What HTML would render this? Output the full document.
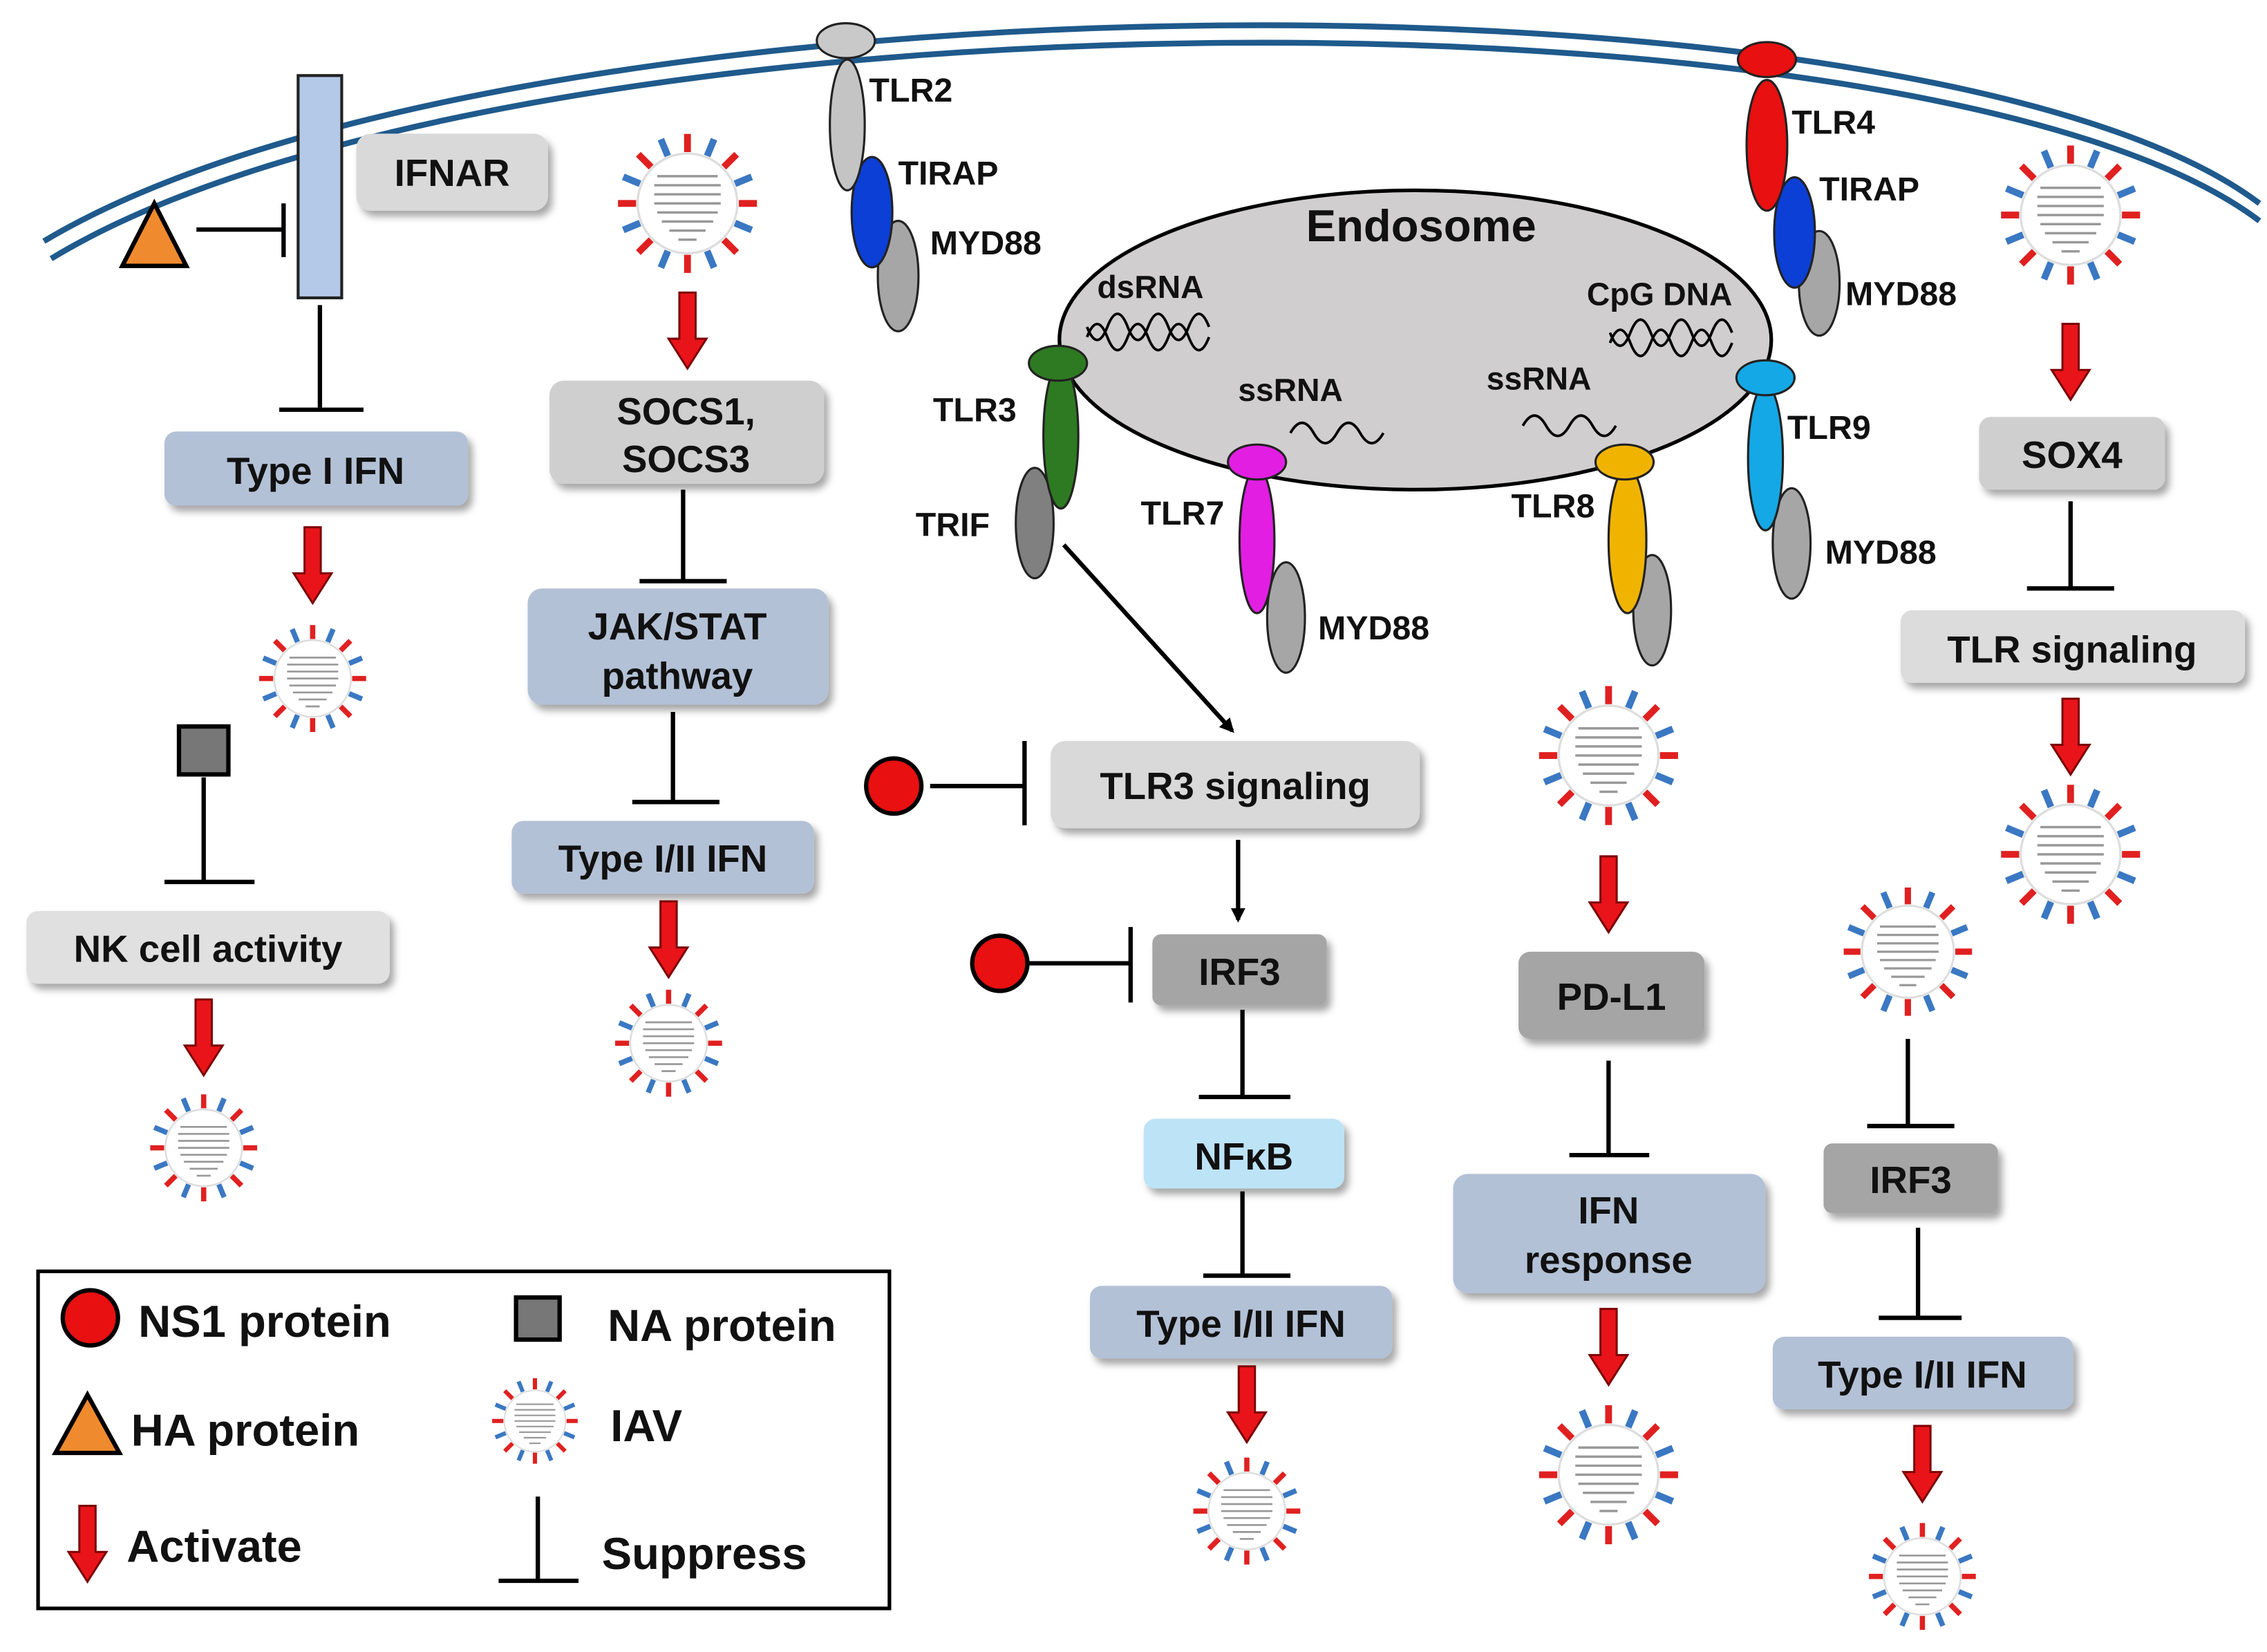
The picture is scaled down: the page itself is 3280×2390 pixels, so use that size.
<!DOCTYPE html>
<html><head><meta charset="utf-8"><style>
html,body{margin:0;padding:0;background:#fff}
svg{display:block}
text{font-family:"Liberation Sans",sans-serif;font-weight:bold;fill:#111}
</style></head><body>
<svg width="3280" height="2390" viewBox="0 0 1560 1137" xmlns="http://www.w3.org/2000/svg">
<defs>
<filter id="sh" x="-10%" y="-10%" width="130%" height="140%"><feDropShadow dx="3" dy="4" stdDeviation="2.5" flood-color="#000" flood-opacity="0.35"/></filter>
<symbol id="v" viewBox="-50 -50 100 100">
<g stroke-width="4.5">
<line x1="0" y1="-34" x2="0" y2="-46" stroke="#e02020"/>
<line x1="0" y1="-34" x2="0" y2="-46" stroke="#3a78c2" transform="rotate(22.5)"/>
<line x1="0" y1="-34" x2="0" y2="-46" stroke="#e02020" transform="rotate(45)"/>
<line x1="0" y1="-34" x2="0" y2="-46" stroke="#3a78c2" transform="rotate(67.5)"/>
<line x1="0" y1="-34" x2="0" y2="-46" stroke="#e02020" transform="rotate(90)"/>
<line x1="0" y1="-34" x2="0" y2="-46" stroke="#3a78c2" transform="rotate(112.5)"/>
<line x1="0" y1="-34" x2="0" y2="-46" stroke="#e02020" transform="rotate(135)"/>
<line x1="0" y1="-34" x2="0" y2="-46" stroke="#3a78c2" transform="rotate(157.5)"/>
<line x1="0" y1="-34" x2="0" y2="-46" stroke="#e02020" transform="rotate(180)"/>
<line x1="0" y1="-34" x2="0" y2="-46" stroke="#3a78c2" transform="rotate(202.5)"/>
<line x1="0" y1="-34" x2="0" y2="-46" stroke="#e02020" transform="rotate(225)"/>
<line x1="0" y1="-34" x2="0" y2="-46" stroke="#3a78c2" transform="rotate(247.5)"/>
<line x1="0" y1="-34" x2="0" y2="-46" stroke="#e02020" transform="rotate(270)"/>
<line x1="0" y1="-34" x2="0" y2="-46" stroke="#3a78c2" transform="rotate(292.5)"/>
<line x1="0" y1="-34" x2="0" y2="-46" stroke="#e02020" transform="rotate(315)"/>
<line x1="0" y1="-34" x2="0" y2="-46" stroke="#3a78c2" transform="rotate(337.5)"/>
</g>
<circle r="33" fill="#fff" stroke="#ddd" stroke-width="1.5"/>
<g stroke="#999" stroke-width="1.6">
<line x1="-20" y1="-18" x2="20" y2="-18"/><line x1="-22" y1="-12" x2="22" y2="-12"/><line x1="-22" y1="-6" x2="22" y2="-6"/><line x1="-22" y1="0" x2="22" y2="0"/><line x1="-20" y1="6" x2="20" y2="6"/><line x1="-17" y1="12" x2="17" y2="12"/><line x1="-12" y1="18" x2="12" y2="18"/><line x1="-6" y1="24" x2="6" y2="24"/>
</g>
</symbol>
<symbol id="ar" viewBox="0 0 30 56" overflow="visible">
<path d="M9,0 H21 V34 H29 L15,56 L1,34 H9 Z" fill="#e8141a" stroke="#7a0000" stroke-width="1.5"/>
</symbol>
<marker id="ah" markerWidth="10" markerHeight="10" refX="8" refY="5" orient="auto" markerUnits="userSpaceOnUse" viewBox="0 0 10 10"><path d="M0,0 L10,5 L0,10 Z" fill="#000"/></marker>
</defs>

<path d="M30,166 C350,-25 1330,-30 1555,140" fill="none" stroke="#1f5a8c" stroke-width="4"/>
<path d="M35,178 C350,-13 1330,-18 1555,152" fill="none" stroke="#1f5a8c" stroke-width="4"/>

<g stroke="#000" stroke-width="3" fill="none">
<line x1="135" y1="158" x2="195" y2="158"/><line x1="195" y1="140" x2="195" y2="177"/>
<line x1="220" y1="210" x2="220" y2="282"/><line x1="192" y1="282" x2="250" y2="282"/>
<line x1="140" y1="535" x2="140" y2="607"/><line x1="113" y1="607" x2="175" y2="607"/>
<line x1="470" y1="337" x2="470" y2="400"/><line x1="440" y1="400" x2="500" y2="400"/>
<line x1="463" y1="490" x2="463" y2="552"/><line x1="435" y1="552" x2="495" y2="552"/>
<line x1="1425" y1="345" x2="1425" y2="405"/><line x1="1395" y1="405" x2="1455" y2="405"/>
<line x1="640" y1="541" x2="705" y2="541"/><line x1="705" y1="510" x2="705" y2="568"/>
<line x1="708" y1="663" x2="778" y2="663"/><line x1="778" y1="638" x2="778" y2="690"/>
<line x1="855" y1="695" x2="855" y2="755"/><line x1="825" y1="755" x2="888" y2="755"/>
<line x1="855" y1="820" x2="855" y2="878"/><line x1="828" y1="878" x2="888" y2="878"/>
<line x1="1107" y1="730" x2="1107" y2="795"/><line x1="1080" y1="795" x2="1135" y2="795"/>
<line x1="1313" y1="715" x2="1313" y2="775"/><line x1="1285" y1="775" x2="1345" y2="775"/>
<line x1="1320" y1="845" x2="1320" y2="907"/><line x1="1293" y1="907" x2="1350" y2="907"/>
<line x1="732" y1="375" x2="848" y2="503" marker-end="url(#ah)"/>
<line x1="852" y1="578" x2="852" y2="633" marker-end="url(#ah)"/>
</g>

<rect x="205" y="52" width="30" height="153" fill="#b4c9e8" stroke="#222" stroke-width="2"/>
<polygon points="106,140 128,183 84,183" fill="#f08a2e" stroke="#000" stroke-width="3"/>
<rect x="123" y="500" width="34" height="33" fill="#777" stroke="#000" stroke-width="3"/>

<g filter="url(#sh)">
<rect x="245" y="92" width="132" height="53" rx="10" fill="#d9d9d9"/>
<rect x="113" y="297" width="209" height="51" rx="8" fill="#b3c1d6"/>
<rect x="18" y="627" width="250" height="50" rx="8" fill="#e0e0e0"/>
<rect x="378" y="262" width="189" height="71" rx="10" fill="#cfcfcf"/>
<rect x="363" y="405" width="207" height="80" rx="10" fill="#b3c1d6"/>
<rect x="352" y="565" width="208" height="50" rx="8" fill="#b3c1d6"/>
<rect x="723" y="510" width="254" height="60" rx="10" fill="#d9d9d9"/>
<rect x="793" y="643" width="120" height="49" rx="6" fill="#a5a5a5"/>
<rect x="787" y="770" width="138" height="48" rx="8" fill="#bde3f7"/>
<rect x="750" y="885" width="208" height="50" rx="8" fill="#b3c1d6"/>
<rect x="1045" y="655" width="128" height="60" rx="8" fill="#a5a5a5"/>
<rect x="1000" y="808" width="215" height="82" rx="10" fill="#b3c1d6"/>
<rect x="1362" y="287" width="128" height="50" rx="8" fill="#cfcfcf"/>
<rect x="1308" y="420" width="237" height="50" rx="8" fill="#dcdcdc"/>
<rect x="1255" y="787" width="120" height="48" rx="6" fill="#a5a5a5"/>
<rect x="1220" y="920" width="207" height="50" rx="8" fill="#b3c1d6"/>
</g>
<g font-size="26" text-anchor="middle">
<text x="311" y="128">IFNAR</text>
<text x="217" y="333">Type I IFN</text>
<text x="143" y="662">NK cell activity</text>
<text x="472" y="292">SOCS1,</text>
<text x="472" y="325">SOCS3</text>
<text x="466" y="440">JAK/STAT</text>
<text x="466" y="474">pathway</text>
<text x="456" y="600">Type I/II IFN</text>
<text x="850" y="550">TLR3 signaling</text>
<text x="853" y="678">IRF3</text>
<text x="856" y="805">NFκB</text>
<text x="854" y="920">Type I/II IFN</text>
<text x="1109" y="695">PD-L1</text>
<text x="1107" y="842">IFN</text>
<text x="1107" y="876">response</text>
<text x="1426" y="322">SOX4</text>
<text x="1426" y="456">TLR signaling</text>
<text x="1315" y="821">IRF3</text>
<text x="1323" y="955">Type I/II IFN</text>
</g>

<ellipse cx="974" cy="234" rx="245" ry="103" fill="#d0cece" stroke="#000" stroke-width="2.5"/>
<text x="978" y="166" font-size="31" text-anchor="middle">Endosome</text>
<g font-size="22">
<text x="755" y="205">dsRNA</text>
<text x="1092" y="210">CpG DNA</text>
<text x="852" y="276">ssRNA</text>
<text x="1023" y="268">ssRNA</text>
</g>
<g fill="none" stroke="#000" stroke-width="1.8">
<path d="M748,232 q7,-18 14,0 t14,0 t14,0 t14,0 t14,0 t14,0"/>
<path d="M748,225 q7,18 14,0 t14,0 t14,0 t14,0 t14,0 t14,0"/>
<path d="M1108,236 q7,-18 14,0 t14,0 t14,0 t14,0 t14,0 t14,0"/>
<path d="M1108,229 q7,18 14,0 t14,0 t14,0 t14,0 t14,0 t14,0"/>
<path d="M888,298 q8,-14 16,0 t16,0 t16,0 t16,0"/>
<path d="M1048,293 q8,-14 16,0 t16,0 t16,0 t16,0"/>
</g>

<g stroke="#222" stroke-width="1.5">
<ellipse cx="618" cy="190" rx="14" ry="38" fill="#a6a6a6"/>
<ellipse cx="600" cy="146" rx="14" ry="38" fill="#0b3fd6"/>
<ellipse cx="583" cy="86" rx="12" ry="45" fill="#c4c4c4"/>
<ellipse cx="582" cy="28" rx="20" ry="12" fill="#c9c9c9"/>

<ellipse cx="1252" cy="195" rx="14" ry="36" fill="#a6a6a6"/>
<ellipse cx="1235" cy="160" rx="14" ry="38" fill="#0b3fd6"/>
<ellipse cx="1216" cy="100" rx="14" ry="45" fill="#e81010"/>
<ellipse cx="1216" cy="41" rx="20" ry="12" fill="#e81010"/>

<ellipse cx="712" cy="360" rx="13" ry="38" fill="#808080"/>
<ellipse cx="730" cy="300" rx="12" ry="50" fill="#2e7a22"/>
<ellipse cx="728" cy="250" rx="20" ry="12" fill="#2e7a22"/>

<ellipse cx="885" cy="425" rx="13" ry="38" fill="#a6a6a6"/>
<ellipse cx="865" cy="372" rx="12" ry="50" fill="#e21ee2"/>
<ellipse cx="865" cy="318" rx="20" ry="12" fill="#e21ee2"/>

<ellipse cx="1137" cy="420" rx="13" ry="38" fill="#a6a6a6"/>
<ellipse cx="1120" cy="372" rx="13" ry="50" fill="#f0b400"/>
<ellipse cx="1118" cy="318" rx="20" ry="12" fill="#f0b400"/>

<ellipse cx="1233" cy="374" rx="13" ry="38" fill="#a6a6a6"/>
<ellipse cx="1215" cy="315" rx="12" ry="50" fill="#14a8e6"/>
<ellipse cx="1215" cy="260" rx="20" ry="12" fill="#14a8e6"/>
</g>
<g font-size="23">
<text x="598" y="70">TLR2</text>
<text x="618" y="127">TIRAP</text>
<text x="640" y="175">MYD88</text>
<text x="1233" y="92">TLR4</text>
<text x="1252" y="138">TIRAP</text>
<text x="1270" y="210">MYD88</text>
<text x="642" y="290">TLR3</text>
<text x="630" y="369">TRIF</text>
<text x="785" y="361">TLR7</text>
<text x="907" y="440">MYD88</text>
<text x="1040" y="356">TLR8</text>
<text x="1230" y="302">TLR9</text>
<text x="1256" y="388">MYD88</text>
</g>

<circle cx="615" cy="541" r="19" fill="#e81010" stroke="#000" stroke-width="3"/>
<circle cx="688" cy="663" r="19" fill="#e81010" stroke="#000" stroke-width="3"/>

<use href="#ar" x="201" y="362" width="28" height="54"/>
<use href="#ar" x="126" y="687" width="28" height="54"/>
<use href="#ar" x="459" y="200" width="28" height="55"/>
<use href="#ar" x="446" y="620" width="28" height="53"/>
<use href="#ar" x="1411" y="222" width="28" height="54"/>
<use href="#ar" x="1411" y="480" width="28" height="54"/>
<use href="#ar" x="844" y="940" width="28" height="53"/>
<use href="#ar" x="1093" y="588" width="28" height="55"/>
<use href="#ar" x="1093" y="900" width="28" height="54"/>
<use href="#ar" x="1309" y="980" width="28" height="55"/>

<use href="#v" x="421" y="88" width="104" height="104"/>
<use href="#v" x="175" y="427" width="80" height="80"/>
<use href="#v" x="100" y="750" width="80" height="80"/>
<use href="#v" x="420" y="678" width="80" height="80"/>
<use href="#v" x="1373" y="96" width="104" height="104"/>
<use href="#v" x="1373" y="536" width="104" height="104"/>
<use href="#v" x="818" y="1000" width="80" height="80"/>
<use href="#v" x="1055" y="468" width="104" height="104"/>
<use href="#v" x="1055" y="963" width="104" height="104"/>
<use href="#v" x="1265" y="607" width="96" height="96"/>
<use href="#v" x="1283" y="1045" width="80" height="80"/>

<rect x="26" y="875" width="586" height="232" fill="#fff" stroke="#000" stroke-width="2.5"/>
<circle cx="62" cy="907" r="19" fill="#e81010" stroke="#000" stroke-width="3"/>
<polygon points="60,960 82,1000 38,1000" fill="#f08a2e" stroke="#000" stroke-width="3"/>
<use href="#ar" x="46" y="1035" width="28" height="55"/>
<rect x="355" y="893" width="30" height="29" fill="#777" stroke="#000" stroke-width="3"/>
<use href="#v" x="336" y="946" width="64" height="64"/>
<g stroke="#000" stroke-width="3"><line x1="370" y1="1030" x2="370" y2="1088"/><line x1="343" y1="1088" x2="398" y2="1088"/></g>
<g font-size="31">
<text x="95" y="920">NS1 protein</text>
<text x="90" y="995">HA protein</text>
<text x="87" y="1075">Activate</text>
<text x="418" y="923">NA protein</text>
<text x="420" y="992">IAV</text>
<text x="414" y="1080">Suppress</text>
</g>
</svg>
</body></html>
